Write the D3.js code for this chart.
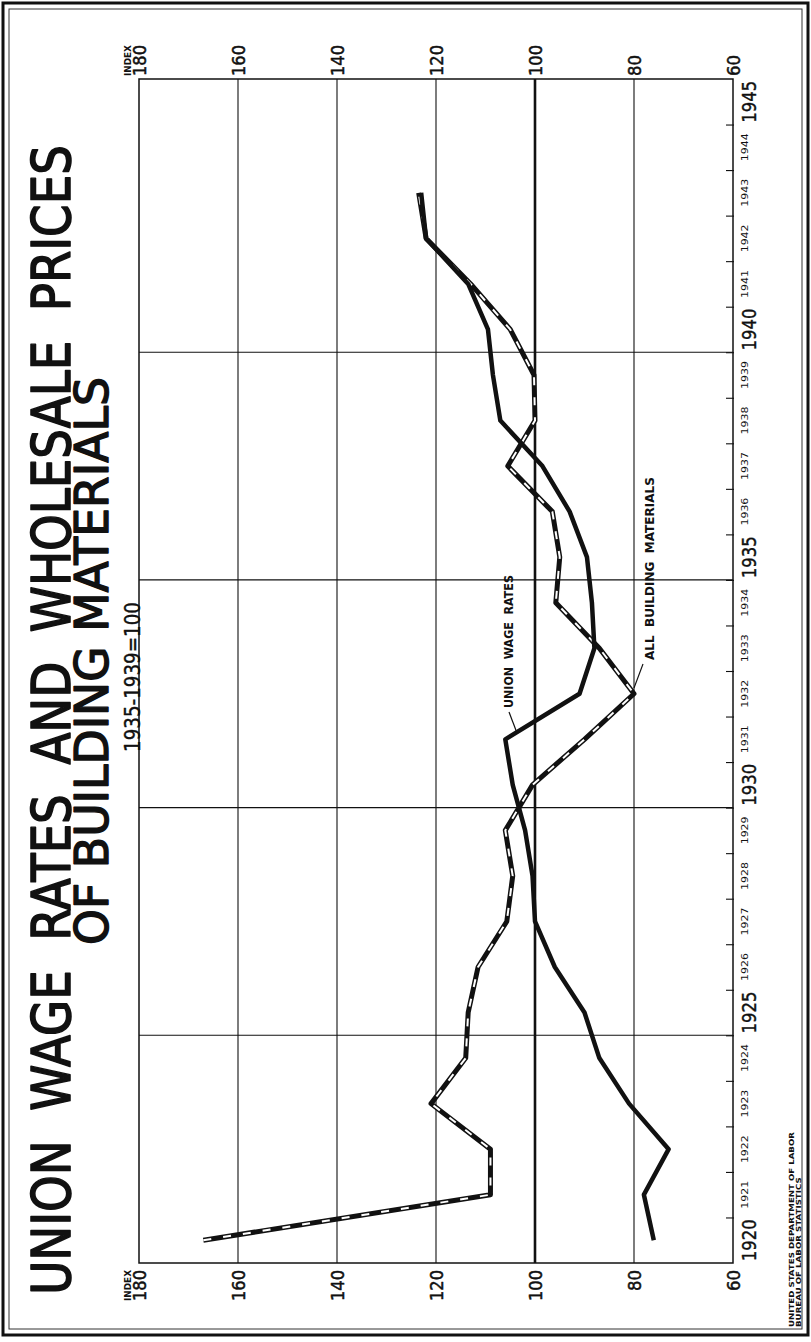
<!DOCTYPE html>
<html>
<head>
<meta charset="utf-8">
<script src="https://cdn.jsdelivr.net/npm/d3@7"></script>
<style>
  body { margin: 0; background: #fff; }
  svg { display: block; }
  text { font-family: "DejaVu Sans", sans-serif; fill: #111; }
</style>
</head>
<body>
<svg id="chart" width="811" height="1342"></svg>
<script>
// data (1935-1939 = 100)
var years = [1920, 1921, 1922, 1923, 1924, 1925, 1926, 1927, 1928, 1929, 1930, 1931,
             1932, 1933, 1934, 1935, 1936, 1937, 1938, 1939, 1940, 1941, 1942, 1943];
var wageRates = [76, 78, 73, 81, 87, 90, 96, 100, 100.5, 102, 104.5, 106,
                 91, 88, 88.5, 89.5, 93, 98.5, 107, 108.5, 109.5, 113.5, 122, 123];
var materialPrices = [167, 109, 109, 121, 114, 113.5, 111.5, 105.7, 104.5, 106, 100.5, 90,
                      80, 87, 95.8, 95, 96.5, 105.5, 100, 100.2, 105, 113, 122, 123.5];
var indexTicks = [180, 160, 140, 120, 100, 80, 60];
var yearTicks = d3.range(1920, 1946);
var majorYears = [1920, 1925, 1930, 1935, 1940, 1945];
var titleLines = ["UNION  WAGE  RATES  AND  WHOLESALE  PRICES", "OF BUILDING MATERIALS"];
var subtitle = "1935-1939=100";
var sourceLines = ["UNITED STATES DEPARTMENT OF LABOR", "BUREAU OF LABOR STATISTICS"];

var svg = d3.select("#chart");

// chart is printed sideways: years run bottom -> top, index runs left (180) -> right (60)
var plot = {left: 139, right: 733, top: 79, bottom: 1263};
var x = d3.scaleLinear().domain([180, 60]).range([plot.left, plot.right]);
var y = d3.scaleLinear().domain([1920, 1946]).range([plot.bottom, plot.top]);

// rotated text, squeezed along its reading direction to a measured length
function sideText(px, py, str, size, len, opts) {
  opts = opts || {};
  var t = svg.append("text")
    .attr("font-size", size)
    .attr("font-weight", opts.weight || "normal")
    .attr("text-anchor", opts.anchor || "middle")
    .style("white-space", "pre")
    .text(str);
  if (opts.stroke) t.attr("stroke", "#111").attr("stroke-width", opts.stroke).attr("stroke-linejoin", "round");
  var k = len ? len / t.node().getComputedTextLength() : 1;
  t.attr("transform", "translate(" + px + "," + py + ") rotate(-90) scale(" + k + ",1)");
  return t;
}

// outer double frame
svg.append("rect").attr("x", 3).attr("y", 3).attr("width", 805).attr("height", 1332)
  .attr("fill", "none").attr("stroke", "#111").attr("stroke-width", 3);
svg.append("rect").attr("x", 9).attr("y", 9).attr("width", 793).attr("height", 1320)
  .attr("fill", "none").attr("stroke", "#333").attr("stroke-width", 1);

// grid
var g = svg.append("g");
g.selectAll("line.vgrid").data(indexTicks.slice(1, -1)).join("line")
  .attr("class", "vgrid")
  .attr("x1", function(d){ return x(d); }).attr("x2", function(d){ return x(d); })
  .attr("y1", plot.top).attr("y2", plot.bottom)
  .attr("stroke", "#111")
  .attr("stroke-width", function(d){ return d === 100 ? 2.6 : 1.1; });

g.selectAll("line.hgrid").data([1925, 1930, 1935, 1940]).join("line")
  .attr("class", "hgrid")
  .attr("x1", plot.left).attr("x2", plot.right)
  .attr("y1", function(d){ return y(d); }).attr("y2", function(d){ return y(d); })
  .attr("stroke", "#111").attr("stroke-width", 1.1);

g.append("rect")
  .attr("x", plot.left).attr("y", plot.top)
  .attr("width", plot.right - plot.left).attr("height", plot.bottom - plot.top)
  .attr("fill", "none").attr("stroke", "#111").attr("stroke-width", 1.5);

// year ticks on the right edge
var yAxis = d3.axisLeft(y).tickValues(yearTicks.slice(1)).tickSize(8).tickFormat("");
svg.append("g").attr("transform", "translate(" + (plot.right + 1) + ",0)")
  .call(yAxis)
  .call(function(a){ a.select(".domain").remove(); })
  .selectAll("line").attr("stroke", "#111").attr("stroke-width", 1.1);

// year labels sit between the ticks
yearTicks.forEach(function(d){
  var big = majorYears.indexOf(d) >= 0;
  sideText(big ? 756 : 748, y(d + 0.5), String(d), big ? 20 : 8.5, big ? 42 : 28,
           {stroke: big ? 0.4 : 0});
});

// index labels, top and bottom
indexTicks.forEach(function(d){
  var len = d >= 100 ? 31 : 21;
  sideText(x(d) + 7, plot.top - 3, String(d), 17, len, {anchor: "start", stroke: 0.5});
  sideText(x(d) + 7, plot.bottom + 7, String(d), 17, len, {anchor: "end", stroke: 0.5});
});
sideText(x(180) - 8, plot.top - 3, "INDEX", 8, 31, {anchor: "start", weight: "bold"});
sideText(x(180) - 8, plot.bottom + 7, "INDEX", 8, 31, {anchor: "end", weight: "bold"});

// lines: points plotted at mid-year
var line = d3.line()
  .x(function(d){ return x(d[1]); })
  .y(function(d){ return y(d[0] + 0.5); });
var wageData = d3.zip(years, wageRates);
var matData = d3.zip(years, materialPrices);

svg.append("path").datum(matData).attr("d", line)
  .attr("fill", "none").attr("stroke", "#111").attr("stroke-width", 5)
  .attr("stroke-linejoin", "round");
svg.append("path").datum(matData).attr("d", line)
  .attr("fill", "none").attr("stroke", "#fff").attr("stroke-width", 2)
  .attr("stroke-dasharray", "8,12");
svg.append("path").datum(wageData).attr("d", line)
  .attr("fill", "none").attr("stroke", "#111").attr("stroke-width", 4.5)
  .attr("stroke-linejoin", "round");

// series labels with leaders
sideText(513, 708, "UNION  WAGE  RATES", 12, 133, {anchor: "start", weight: "bold"});
svg.append("line").attr("x1", 509).attr("y1", 712).attr("x2", 517).attr("y2", 733)
  .attr("stroke", "#111").attr("stroke-width", 1.2);
sideText(654, 660, "ALL  BUILDING  MATERIALS", 12, 183, {anchor: "start", weight: "bold"});
svg.append("line").attr("x1", 643).attr("y1", 664).attr("x2", 634).attr("y2", 688)
  .attr("stroke", "#111").attr("stroke-width", 1.2);

// titles
sideText(70, 720, titleLines[0], 53, 1150, {stroke: 1.6});
sideText(108, 661, titleLines[1], 46, 568, {stroke: 1.4});
sideText(140, 677, subtitle, 21, 150, {stroke: 0.4});

// source note
sourceLines.forEach(function(s, i){
  sideText(794 + i * 7, 1327, s, 7, i === 0 ? 195 : 150, {anchor: "start", weight: "bold"});
});
</script>
</body>
</html>
